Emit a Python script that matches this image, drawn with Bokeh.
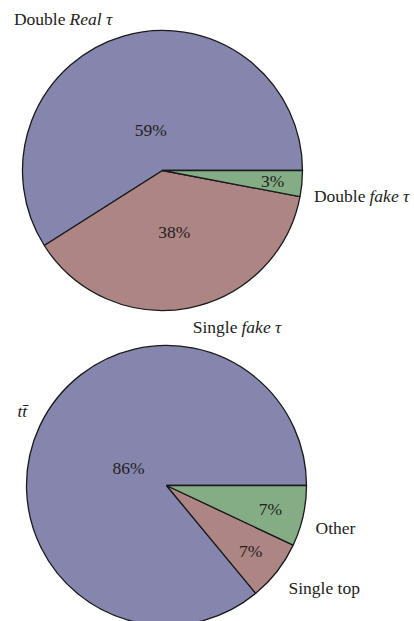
import numpy as np
from bokeh.plotting import figure
from bokeh.models import Range1d
from bokeh.core.properties import value
from bokeh.embed import file_html
from bokeh.resources import INLINE

# Composition of the selected events by tau origin
tau_labels = ["Double Real τ", "Single fake τ", "Double fake τ"]
tau_shares = [59, 38, 3]

# Composition of the background by process
bkg_labels = ["tt̄", "Single top", "Other"]
bkg_shares = [86, 7, 7]

slice_colors = ["#8585ad", "#ad8585", "#85ad85"]

W, H = 414, 621
R = 140
FONT = "'Liberation Serif', 'DejaVu Serif', serif"
FSIZE = "17.5px"

p = figure(width=W, height=H, x_range=Range1d(0, W), y_range=Range1d(0, H),
           output_backend="svg", toolbar_location=None, min_border=0)
p.axis.visible = False
p.grid.visible = False
p.outline_line_color = None
p.background_fill_color = "white"
p.border_fill_color = "white"


def sy(y):
    # pixel row -> data y
    return H - y


def draw_pie(cx, cy, shares, pct_dist):
    frac = np.asarray(shares, dtype=float) / np.sum(shares)
    ends = np.cumsum(frac) * 2 * np.pi
    starts = np.concatenate([[0.0], ends[:-1]])
    p.wedge(x=cx, y=sy(cy), radius=R, start_angle=starts, end_angle=ends,
            direction="anticlock", fill_color=slice_colors[:len(shares)],
            line_color="#1a1a1a", line_width=1.3)
    mids = (starts + ends) / 2
    d = np.asarray(pct_dist) * R
    p.text(x=cx + d * np.cos(mids), y=sy(cy) + d * np.sin(mids),
           text=[f"{s}%" for s in shares], text_align="center",
           text_baseline="middle", text_font=value(FONT),
           text_font_size=FSIZE, text_color="#222222")


def draw_label(plain, italic, split_x, y):
    # upright part ends at split_x, italic part starts just after it
    if plain:
        align = "right" if italic else "left"
        p.text(x=[split_x], y=[sy(y)], text=[plain], text_align=align,
               text_baseline="middle", text_font=value(FONT),
               text_font_size=FSIZE, text_color="#222222")
    if italic:
        xi = split_x + 4 if plain else split_x
        p.text(x=[xi], y=[sy(y)], text=[italic], text_align="left",
               text_baseline="middle", text_font=value(FONT),
               text_font_style="italic", text_font_size=FSIZE,
               text_color="#222222")


# upper pie
draw_pie(162, 170, tau_shares, [0.30, 0.45, 0.79])
tau_label_pos = [(65, 18), (237, 326), (365, 195)]
for lab, (sx, yy) in zip(tau_labels, tau_label_pos):
    plain, _, ital = lab.partition(" ")
    draw_label(plain, ital, sx, yy)

# lower pie
draw_pie(166, 485, bkg_shares, [0.30, 0.76, 0.76])
bkg_label_pos = [(17, 410), (288, 587), (315, 527)]
bkg_italic = [True, False, False]
for lab, (sx, yy), it in zip(bkg_labels, bkg_label_pos, bkg_italic):
    if it:
        draw_label("", lab, sx, yy)
    else:
        draw_label(lab, "", sx, yy)

open("out.html", "w").write(file_html(p, INLINE))
